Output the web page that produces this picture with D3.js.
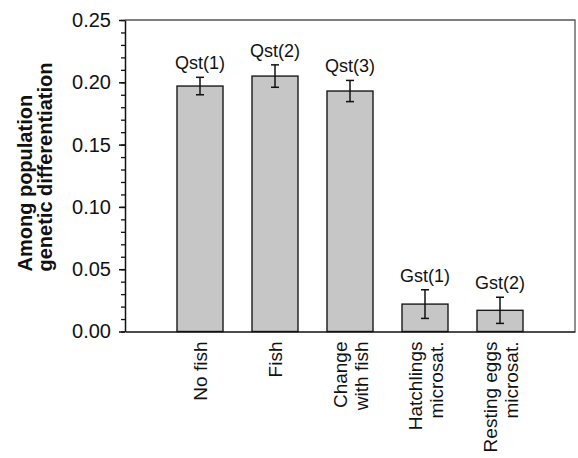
<!DOCTYPE html>
<html>
<head>
<meta charset="utf-8">
<script src="https://cdn.jsdelivr.net/npm/d3@7"></script>
<style>
	body { margin: 0; background: #fff; }
	svg { display: block; font-family: 'Liberation Sans', Arial, sans-serif; }
</style>
</head>
<body>
<div id="chart"></div>
<script>
var categories = ['No fish', 'Fish', 'Change with fish', 'Hatchlings microsat.', 'Resting eggs microsat.'];
var categoryLines = [['No fish'], ['Fish'], ['Change', 'with fish'], ['Hatchlings', 'microsat.'], ['Resting eggs', 'microsat.']];
var barLabels = ['Qst(1)', 'Qst(2)', 'Qst(3)', 'Gst(1)', 'Gst(2)'];
var values = [0.197, 0.205, 0.193, 0.022, 0.017];
var errors = [0.007, 0.009, 0.0085, 0.0115, 0.0105];
var yTicks = [0, 0.05, 0.10, 0.15, 0.20, 0.25];
var yTitle = ['Among population', 'genetic differentiation'];

var width = 578, height = 458;
var margin = { top: 20, right: 3, bottom: 126.5, left: 125 };

var svg = d3.select('#chart').append('svg')
	.attr('width', width)
	.attr('height', height);

var x = d3.scalePoint()
	.domain(categories)
	.range([margin.left, width - margin.right])
	.padding(1);

var y = d3.scaleLinear()
	.domain([0, 0.25])
	.range([height - margin.bottom, margin.top]);

var barWidth = 46;
var data = categories.map(function(c, i) {
	return { cat: c, value: values[i], err: errors[i], label: barLabels[i], lines: categoryLines[i] };
});

// frame (top + right)
svg.append('path')
	.attr('d', 'M' + margin.left + ',' + y(0.25) + 'H' + (width - margin.right) + 'V' + y(0))
	.attr('fill', 'none')
	.attr('stroke', '#555')
	.attr('stroke-width', 1.3);

// bars
svg.selectAll('.bar')
	.data(data)
	.enter().append('rect')
	.attr('class', 'bar')
	.attr('x', function(d) { return x(d.cat) - barWidth / 2; })
	.attr('y', function(d) { return y(d.value); })
	.attr('width', barWidth)
	.attr('height', function(d) { return y(0) - y(d.value); })
	.attr('fill', '#c6c6c6')
	.attr('stroke', '#1a1a1a')
	.attr('stroke-width', 1.4);

// error bars
var err = svg.selectAll('.err')
	.data(data)
	.enter().append('g')
	.attr('class', 'err')
	.attr('stroke', '#111')
	.attr('stroke-width', 1.5);
err.append('line')
	.attr('x1', function(d) { return x(d.cat); })
	.attr('x2', function(d) { return x(d.cat); })
	.attr('y1', function(d) { return y(d.value + d.err); })
	.attr('y2', function(d) { return y(d.value - d.err); });
err.append('line')
	.attr('x1', function(d) { return x(d.cat) - 4; })
	.attr('x2', function(d) { return x(d.cat) + 4; })
	.attr('y1', function(d) { return y(d.value + d.err); })
	.attr('y2', function(d) { return y(d.value + d.err); });
err.append('line')
	.attr('x1', function(d) { return x(d.cat) - 4; })
	.attr('x2', function(d) { return x(d.cat) + 4; })
	.attr('y1', function(d) { return y(d.value - d.err); })
	.attr('y2', function(d) { return y(d.value - d.err); });

// labels above bars
svg.selectAll('.blabel')
	.data(data)
	.enter().append('text')
	.attr('class', 'blabel')
	.attr('x', function(d) { return x(d.cat); })
	.attr('y', function(d) { return y(d.value + d.err) - 8; })
	.attr('text-anchor', 'middle')
	.attr('font-size', 18)
	.attr('fill', '#111')
	.text(function(d) { return d.label; });

// minor ticks
svg.append('g')
	.attr('transform', 'translate(' + margin.left + ',0)')
	.call(d3.axisLeft(y).ticks(25).tickSize(4).tickFormat(''))
	.call(function(g) { g.select('.domain').remove(); })
	.selectAll('line').attr('stroke', '#111').attr('stroke-width', 1.3);

// y axis
var yAxis = svg.append('g')
	.attr('transform', 'translate(' + margin.left + ',0)')
	.call(d3.axisLeft(y).tickValues(yTicks).tickSize(6).tickSizeOuter(0).tickPadding(8).tickFormat(d3.format('.2f')));
yAxis.select('.domain').attr('stroke', '#111').attr('stroke-width', 1.5);
yAxis.selectAll('.tick line').attr('stroke', '#111').attr('stroke-width', 1.5);
yAxis.selectAll('.tick text')
	.attr('font-size', 20)
	.attr('fill', '#111')
	.attr('font-family', null);

// x axis baseline
var xAxis = svg.append('g')
	.attr('transform', 'translate(0,' + y(0) + ')')
	.call(d3.axisBottom(x).tickSize(0).tickSizeOuter(0).tickFormat(''));
xAxis.select('.domain').attr('stroke', '#111').attr('stroke-width', 1.5);

// category labels (rotated)
var cl = svg.selectAll('.clabel')
	.data(data)
	.enter().append('text')
	.attr('class', 'clabel')
	.attr('transform', function(d) { return 'translate(' + x(d.cat) + ',' + (y(0) + 10) + ') rotate(-90)'; })
	.attr('text-anchor', 'end')
	.attr('font-size', 19)
	.attr('fill', '#111');
cl.selectAll('tspan')
	.data(function(d) { return d.lines.map(function(t, k) { return { t: t, k: k, n: d.lines.length }; }); })
	.enter().append('tspan')
	.attr('x', 0)
	.attr('y', function(d) { return 7 + (d.k - (d.n - 1) / 2) * 21; })
	.text(function(d) { return d.t; });

// y title
var yt = svg.append('text')
	.attr('transform', 'translate(0,' + (y(0) - 60) + ') rotate(-90)')
	.attr('text-anchor', 'start')
	.attr('font-size', 20)
	.attr('font-weight', 'bold')
	.attr('fill', '#111');
yt.selectAll('tspan')
	.data(yTitle)
	.enter().append('tspan')
	.attr('x', 0)
	.attr('y', function(d, i) { return 32 + i * 20; })
	.text(function(d) { return d; });
</script>
</body>
</html>
